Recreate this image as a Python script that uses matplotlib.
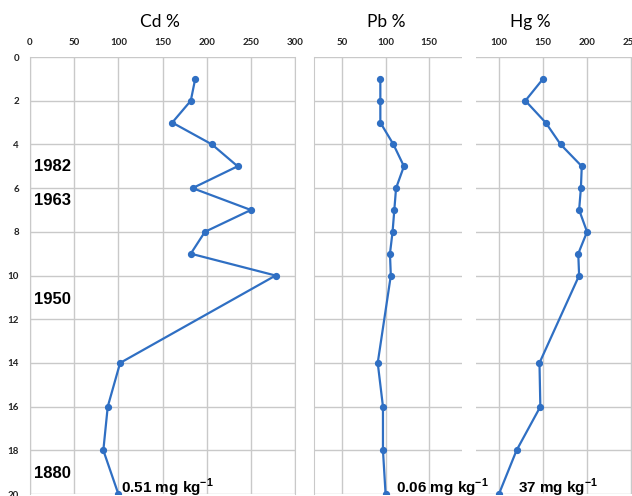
import matplotlib
matplotlib.use("Agg")
import matplotlib.pyplot as plt

# depth (cm) of each sample
depth = [1, 2, 3, 4, 5, 6, 7, 8, 9, 10, 14, 16, 18, 20]

cd = [187, 182, 161, 206, 235, 184, 250, 198, 182, 278, 102, 88, 83, 100]
pb = [94, 94, 94, 109, 121, 112, 110, 108, 105, 106, 91, 97, 97, 100]
hg = [150, 130, 153, 170, 194, 193, 191, 200, 190, 191, 146, 147, 120, 100]

titles = ["Cd %", "Pb %", "Hg %"]
baselines = ["0.51 mg kg", "0.06 mg kg", "37 mg kg"]
years = ["1982", "1963", "1950", "1880"]
year_depth = [5.0, 6.55, 11.1, 19.05]

plt.rcParams['mathtext.fontset'] = 'custom'
plt.rcParams['mathtext.bf'] = 'Liberation Sans:bold'
plt.rcParams['mathtext.rm'] = 'Liberation Sans'

blue = '#2f6fc3'
grid = '#c9c9c9'

fig = plt.figure(figsize=(6.32, 4.96), dpi=100)

# [left, bottom, width, height], xlim, xticks
panels = [
    ([0.0475, 0.004, 0.4193, 0.881], (0, 300), [0, 50, 100, 150, 200, 250, 300]),
    ([0.4968, 0.004, 0.2342, 0.881], (18, 187.5), [50, 100, 150]),
    ([0.7532, 0.004, 0.2468, 0.881], (74, 251), [100, 150, 200, 250]),
]
series = [cd, pb, hg]
title_x = [160, 386, 530]
label_x = [103, 112, 121.5]

axes = []
for i, (rect, xl, xt) in enumerate(panels):
    ax = fig.add_axes(rect)
    ax.plot(series[i], depth, color=blue, lw=1.6, marker='o', ms=4.2, zorder=3)
    ax.set_xlim(xl)
    ax.set_ylim(20, 0)
    ax.set_xticks(xt)
    ax.set_yticks(range(0, 21, 2))
    ax.xaxis.tick_top()
    ax.tick_params(length=0, labelsize=7, colors='#222222', pad=8)
    ax.tick_params(axis='x', pad=7)
    for lab in ax.get_xticklabels() + ax.get_yticklabels():
        lab.set_fontfamily('Lato')
        lab.set_fontweight('bold')
    ax.grid(True, color=grid, lw=1.0)
    ax.set_axisbelow(True)
    for s in ax.spines.values():
        s.set_visible(False)
    if i < 2:
        ax.spines['left'].set_visible(True)
        ax.spines['left'].set_color(grid)
    if i == 0:
        ax.spines['right'].set_visible(True)
        ax.spines['right'].set_color(grid)
    else:
        ax.set_yticklabels([])
    fig.text(title_x[i] / 632, 1 - 22 / 496, titles[i], ha='center', va='center',
             fontsize=12.5, family='Lato')
    # drawn at figure level so the next panel does not hide it
    fig.text(label_x[i], 19.7, baselines[i] + r'$^{\mathbf{-1}}$', fontsize=11,
             fontweight='bold', family='Liberation Sans', va='center', ha='left',
             transform=ax.transData)
    axes.append(ax)

for yr, d in zip(years, year_depth):
    axes[0].text(4.5, d, yr, fontsize=12, fontweight='bold', family='Liberation Sans',
                 va='center', ha='left')

fig.savefig('out.png', dpi=100)
